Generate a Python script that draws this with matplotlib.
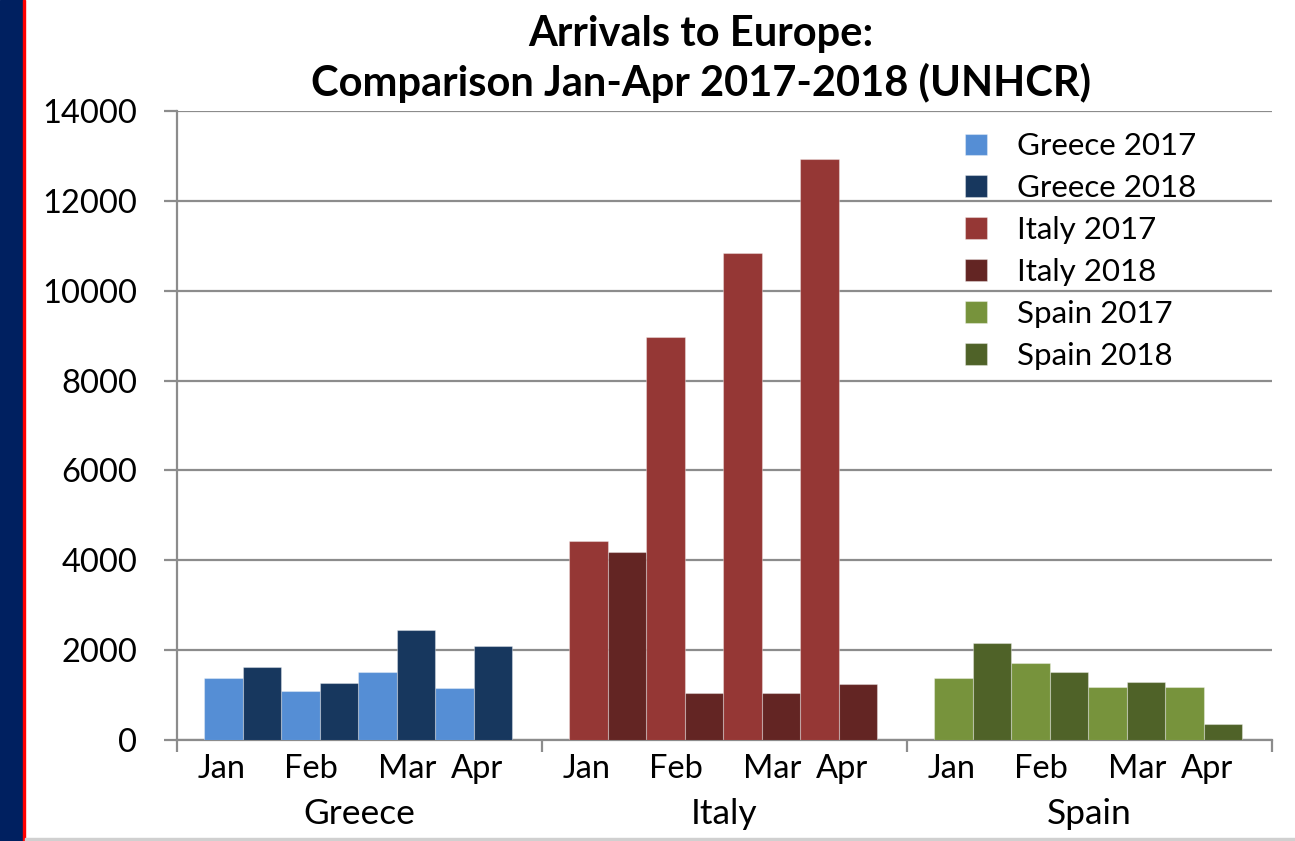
import numpy as np
import matplotlib
matplotlib.use("Agg")
import matplotlib.pyplot as plt
from matplotlib.patches import Rectangle

plt.rcParams['font.family'] = ['Lato', 'DejaVu Sans']

# arrivals per month, Jan..Apr
countries = ['Greece', 'Italy', 'Spain']
months = ['Jan', 'Feb', 'Mar', 'Apr']
greece_2017 = [1390, 1090, 1520, 1150]
greece_2018 = [1630, 1260, 2440, 2090]
italy_2017 = [4440, 8980, 10850, 12940]
italy_2018 = [4190, 1050, 1050, 1250]
spain_2017 = [1370, 1710, 1190, 1180]
spain_2018 = [2170, 1520, 1280, 360]

series = [
    ('Greece 2017', greece_2017, '#558ed5', 0),
    ('Greece 2018', greece_2018, '#17375e', 0),
    ('Italy 2017', italy_2017, '#953735', 1),
    ('Italy 2018', italy_2018, '#632523', 1),
    ('Spain 2017', spain_2017, '#77933c', 2),
    ('Spain 2018', spain_2018, '#4f6228', 2),
]

grid_col = '#8c8c8c'
w = 0.1055          # bar width in group units
start = 0.074       # gap before first bar of a group

fig = plt.figure(figsize=(12.95, 8.41), dpi=100)
ax = fig.add_axes([177 / 1295, 1 - 740 / 841, 1095 / 1295, 629 / 841])

slot = np.arange(4) * 2 * w
for i, (label, vals, col, g) in enumerate(series):
    x = g + start + slot + (i % 2) * w
    ax.bar(x, vals, width=w, align='edge', color=col, label=label,
           edgecolor=(1, 1, 1, 0.35), linewidth=0.8, zorder=3)

ax.set_xlim(0, 3)
ax.set_ylim(0, 14000)
ax.set_yticks(range(0, 14001, 2000))
ax.yaxis.grid(True, color=grid_col, linewidth=1.6, zorder=0)
ax.set_axisbelow(True)

for s in ['top', 'right']:
    ax.spines[s].set_visible(False)
for s in ['left', 'bottom']:
    ax.spines[s].set_color(grid_col)
    ax.spines[s].set_linewidth(1.6)

ax.tick_params(axis='y', length=9.5, width=1.6, color=grid_col, pad=19,
               labelsize=23.5)

# group separators as major ticks, month names as minor tick labels
ax.set_xticks([0, 1, 2, 3])
ax.set_xticklabels([])
ax.tick_params(axis='x', which='major', length=8.6, width=1.6, color=grid_col)
month_pos = np.array([0.123, 0.367, 0.630, 0.822])
ax.set_xticks(np.concatenate([g + month_pos for g in range(3)]), minor=True)
ax.set_xticklabels(months * 3, minor=True)
ax.tick_params(axis='x', which='minor', length=0, pad=10, labelsize=23.5)

for g, name in enumerate(countries):
    ax.text(g + 0.5, -0.118, name, transform=ax.get_xaxis_transform(),
            ha='center', va='center', fontsize=25.5)

ax.legend(loc='upper left', bbox_to_anchor=(0.7196, 0.966), frameon=False,
          fontsize=22.5, handlelength=0.7, handleheight=0.7,
          handletextpad=0.96, labelspacing=0.445, borderpad=0, borderaxespad=0)

fig.text(701 / 1295, 1 - 59 / 841,
         'Arrivals to Europe:\nComparison Jan-Apr 2017-2018 (UNHCR)',
         ha='center', va='center', fontsize=30, fontweight='bold',
         linespacing=1.3)

# slide edge decoration
fig.patches.append(Rectangle((0, 0), 23 / 1295, 1, transform=fig.transFigure,
                             color='#002060', zorder=5))
fig.patches.append(Rectangle((23 / 1295, 0), 2 / 1295, 1,
                             transform=fig.transFigure, color='#ff0000', zorder=5))
fig.patches.append(Rectangle((25 / 1295, 0), 1, 3 / 841,
                             transform=fig.transFigure, color='#d0d0d0', zorder=5))

fig.savefig('out.png', dpi=100)
